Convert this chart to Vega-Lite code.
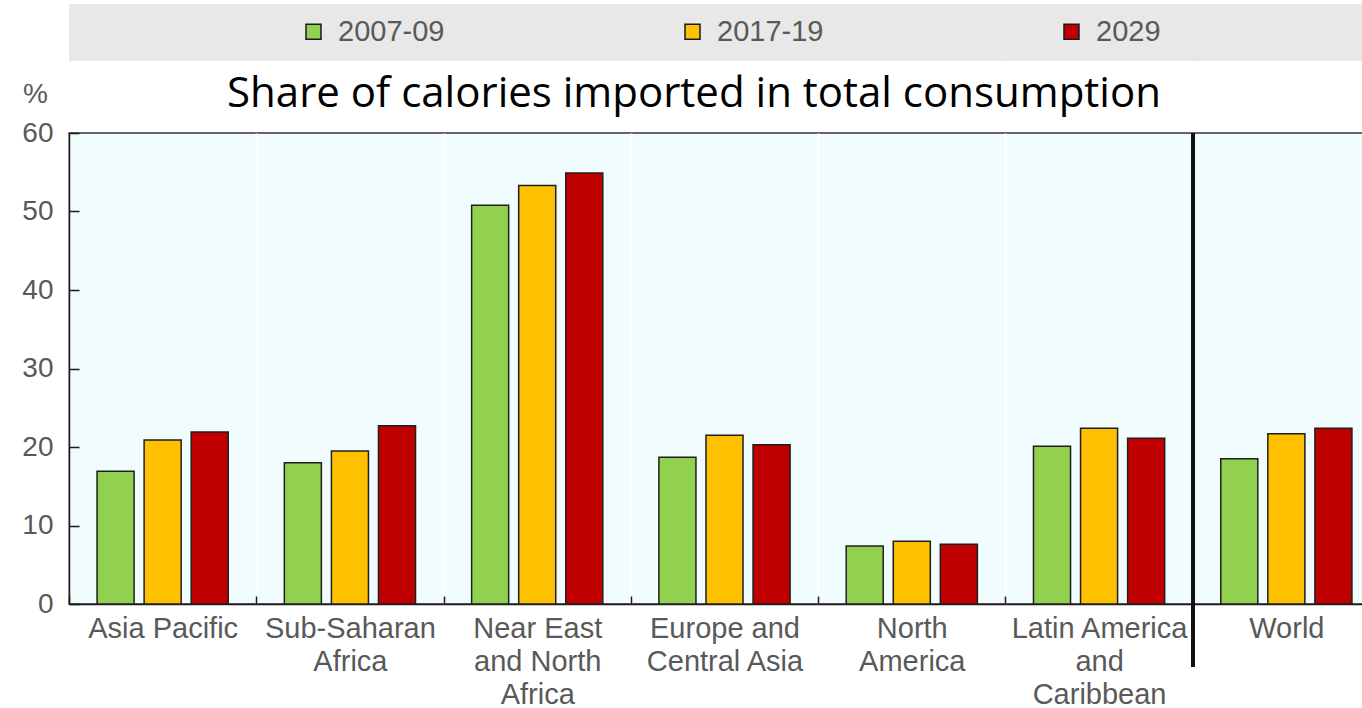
{
  "$schema": "https://vega.github.io/schema/vega-lite/v6.json",
  "width": 1294,
  "height": 471,
  "autosize": {"type": "none"},
  "padding": {"left": 69, "top": 133, "right": 0, "bottom": 104},
  "background": "#ffffff",
  "title": {
    "text": "Share of calories imported in total consumption",
    "font": "Open Sans",
    "fontSize": 42,
    "fontWeight": "normal",
    "color": "#000000",
    "anchor": "middle",
    "frame": "group",
    "dx": -22,
    "baseline": "alphabetic",
    "offset": -145
  },
  "data": {
    "values": [
      {"region": "Asia Pacific", "period": "2007-09", "value": 16.9},
      {"region": "Asia Pacific", "period": "2017-19", "value": 20.9},
      {"region": "Asia Pacific", "period": "2029", "value": 21.9},
      {"region": "Sub-Saharan Africa", "period": "2007-09", "value": 18.0},
      {"region": "Sub-Saharan Africa", "period": "2017-19", "value": 19.5},
      {"region": "Sub-Saharan Africa", "period": "2029", "value": 22.7},
      {"region": "Near East and North Africa", "period": "2007-09", "value": 50.8},
      {"region": "Near East and North Africa", "period": "2017-19", "value": 53.3},
      {"region": "Near East and North Africa", "period": "2029", "value": 54.9},
      {"region": "Europe and Central Asia", "period": "2007-09", "value": 18.7},
      {"region": "Europe and Central Asia", "period": "2017-19", "value": 21.5},
      {"region": "Europe and Central Asia", "period": "2029", "value": 20.3},
      {"region": "North America", "period": "2007-09", "value": 7.4},
      {"region": "North America", "period": "2017-19", "value": 8.0},
      {"region": "North America", "period": "2029", "value": 7.6},
      {"region": "Latin America and Caribbean", "period": "2007-09", "value": 20.1},
      {"region": "Latin America and Caribbean", "period": "2017-19", "value": 22.4},
      {"region": "Latin America and Caribbean", "period": "2029", "value": 21.1},
      {"region": "World", "period": "2007-09", "value": 18.5},
      {"region": "World", "period": "2017-19", "value": 21.7},
      {"region": "World", "period": "2029", "value": 22.4}
    ]
  },
  "layer": [
    {
      "mark": {"type": "bar", "stroke": "#1f1f1f", "strokeWidth": 1.5},
      "encoding": {
        "x": {
          "field": "region",
          "type": "nominal",
          "sort": null,
          "scale": {"range": [0, 1311], "paddingInner": 0, "paddingOuter": 0},
          "axis": {
            "title": null,
            "labelAngle": 0,
            "labelFont": "Liberation Sans",
            "labelFontSize": 29,
            "labelColor": "#595959",
            "labelPadding": 18,
            "labelLineHeight": 33,
            "labelLimit": 400,
            "labelOverlap": false,
            "labelBaseline": "top",
            "tickBand": "extent",
            "tickSize": -8,
            "tickColor": "#1a1a1a",
            "tickWidth": 1.5,
            "domainColor": "#1a1a1a",
            "domainWidth": 1.5,
            "grid": true,
            "gridColor": "#ffffff",
            "gridWidth": 2,
            "labelExpr": "datum.label == 'Sub-Saharan Africa' ? ['Sub-Saharan', 'Africa'] : datum.label == 'Near East and North Africa' ? ['Near East', 'and North', 'Africa'] : datum.label == 'Europe and Central Asia' ? ['Europe and', 'Central Asia'] : datum.label == 'North America' ? ['North', 'America'] : datum.label == 'Latin America and Caribbean' ? ['Latin America', 'and', 'Caribbean'] : datum.label"
          }
        },
        "xOffset": {
          "field": "period",
          "type": "nominal",
          "scale": {"paddingInner": 0.213, "paddingOuter": 0.596}
        },
        "y": {
          "field": "value",
          "type": "quantitative",
          "scale": {"domain": [0, 60], "nice": false, "zero": true},
          "axis": {
            "title": "%",
            "titleAngle": 0,
            "titleX": -34,
            "titleY": -39,
            "titleAlign": "center",
            "titleBaseline": "middle",
            "titleFont": "Liberation Sans",
            "titleFontSize": 28,
            "titleFontWeight": "normal",
            "titleColor": "#595959",
            "values": [0, 10, 20, 30, 40, 50, 60],
            "labelFont": "Liberation Sans",
            "labelFontSize": 28,
            "labelColor": "#595959",
            "labelPadding": 26,
            "tickSize": -10,
            "tickColor": "#1a1a1a",
            "tickWidth": 1.5,
            "domainColor": "#1a1a1a",
            "domainWidth": 1.5,
            "grid": false
          }
        },
        "color": {
          "field": "period",
          "type": "nominal",
          "scale": {
            "domain": ["2007-09", "2017-19", "2029"],
            "range": ["#92d050", "#ffc000", "#c00000"]
          },
          "legend": {
            "title": null,
            "orient": "none",
            "legendX": 230,
            "legendY": -116,
            "direction": "horizontal",
            "columns": 3,
            "columnPadding": 233,
            "labelOffset": 10,
            "symbolType": "square",
            "symbolSize": 225,
            "symbolStrokeColor": "#1a1a1a",
            "symbolStrokeWidth": 1.5,
            "labelFont": "Liberation Sans",
            "labelFontSize": 29,
            "labelColor": "#595959",
            "padding": 0
          }
        }
      }
    },
    {
      "mark": {"type": "rect", "color": "#e8e8e8", "clip": false},
      "encoding": {
        "x": {"field": "region", "type": "nominal", "sort": null},
        "y": {"datum": 76.43, "type": "quantitative"},
        "y2": {"datum": 69.17}
      }
    },
    {
      "mark": {"type": "rule", "color": "#111111", "strokeWidth": 3, "clip": false},
      "encoding": {
        "x": {"datum": "World", "type": "nominal", "bandPosition": 0},
        "y": {"datum": -8, "type": "quantitative"},
        "y2": {"datum": 60}
      }
    }
  ],
  "config": {
    "view": {"fill": "#f0fcfe", "stroke": "#333333", "strokeWidth": 1.5}
  }
}
